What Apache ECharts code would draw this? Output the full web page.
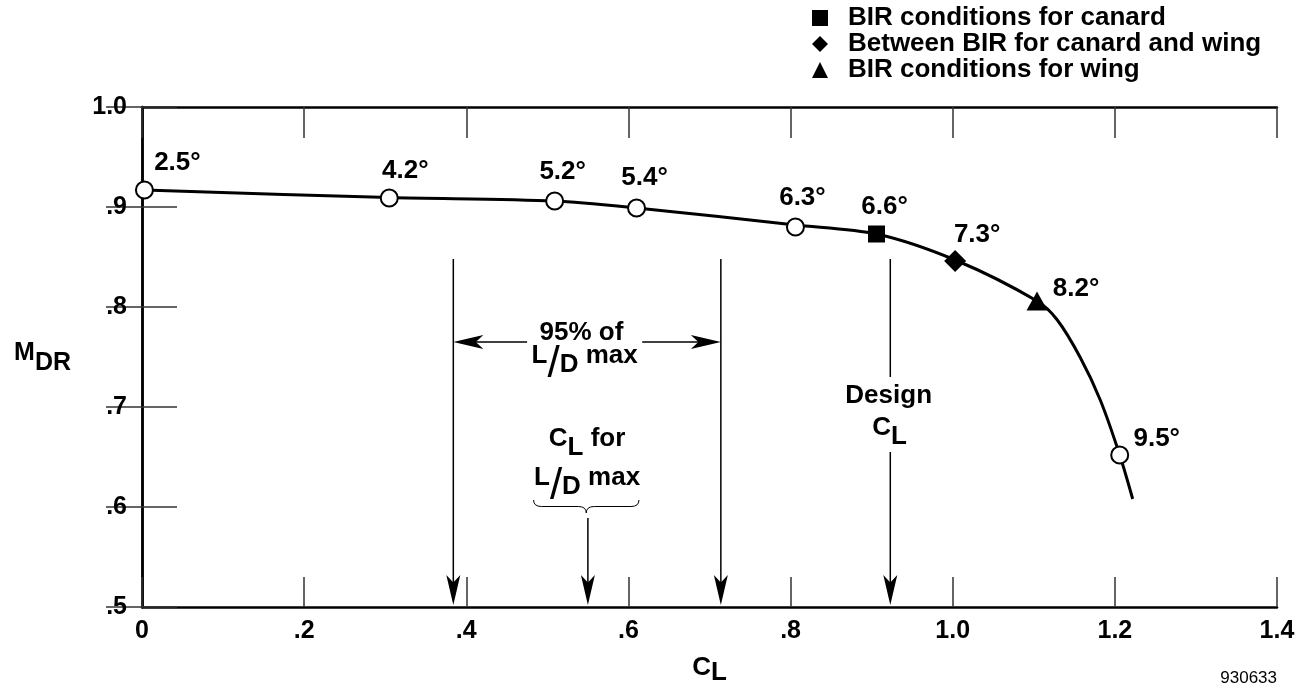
<!DOCTYPE html>
<html>
<head>
<meta charset="utf-8">
<script src="https://cdn.jsdelivr.net/npm/echarts@6/dist/echarts.min.js"></script>
<style>
html, body { margin: 0; padding: 0; background: #fff; }
#main { width: 1299px; height: 688px; }
</style>
</head>
<body>
<div id="main"></div>
<script>
var FONT = '"Liberation Sans", Arial, Helvetica, sans-serif';

// faired curve through the test points (C_L, M_DR)
var curveCL  = [0.003, 0.305, 0.509, 0.61, 0.806, 0.906, 1.003, 1.104, 1.129, 1.157, 1.182, 1.206, 1.222];
var curveMDR = [0.917, 0.9095, 0.906, 0.899, 0.882, 0.873, 0.847, 0.806, 0.787, 0.750, 0.707, 0.652, 0.608];

// open symbols
var openCL    = [0.003, 0.305, 0.509, 0.61, 0.806, 1.206];
var openMDR   = [0.917, 0.909, 0.906, 0.899, 0.880, 0.652];
var openAlpha = ['2.5°', '4.2°', '5.2°', '5.4°', '6.3°', '9.5°'];

// BIR points
var canardCL  = [0.906], canardMDR  = [0.873], canardAlpha  = ['6.6°'];
var betweenCL = [1.003], betweenMDR = [0.846], betweenAlpha = ['7.3°'];
var wingCL    = [1.104], wingMDR    = [0.806], wingAlpha    = ['8.2°'];

var legendNames = ['BIR conditions for canard', 'Between BIR for canard and wing', 'BIR conditions for wing'];

var xTickLabels = ['0', '.2', '.4', '.6', '.8', '1.0', '1.2', '1.4'];
var yTickLabels = ['.5', '.6', '.7', '.8', '.9', '1.0'];

// annotation arrows: [fromCL, fromMDR, toCL, toMDR, head]
var arrowLines = [
  [0.384, 0.848, 0.384, 0.502, 1],
  [0.714, 0.848, 0.714, 0.502, 1],
  [0.550, 0.589, 0.550, 0.502, 1],
  [0.923, 0.848, 0.923, 0.730, 0],
  [0.923, 0.655, 0.923, 0.502, 1],
  [0.475, 0.765, 0.384, 0.765, 1],
  [0.617, 0.765, 0.714, 0.765, 1]
];

// annotation texts
var noteText = ['95% of', '{b|L}{sl|/}{sub|D}{b| max}', '{b|C}{sub|L}{b| for}', '{b|L}{sl|/}{sub|D}{b| max}', 'Design', '{b|C}{sub|L}'];
var noteCL   = [0.542, 0.546, 0.549, 0.549, 0.921, 0.922];
var noteMDR  = [0.774, 0.742, 0.659, 0.620, 0.711, 0.670];

// brace under "C_L for L/D max": [leftCL, topMDR, rightCL, tipMDR]
var brace = [0.483, 0.607, 0.613, 0.594];

var subRich = {
  b:   { fontFamily: FONT, fontSize: 26, fontWeight: 'bold', color: '#000', fill: '#000', lineHeight: 28, verticalAlign: 'top' },
  sub: { fontFamily: FONT, fontSize: 26, fontWeight: 'bold', color: '#000', fill: '#000', lineHeight: 44 },
  sl:  { fontFamily: FONT, fontSize: 44, fontWeight: 'normal', color: '#000', fill: '#000', lineHeight: 44 }
};
var axisNameRich = {
  b:   { fontFamily: FONT, fontSize: 26, fontWeight: 'bold', color: '#000', lineHeight: 28, verticalAlign: 'top' },
  sub: { fontFamily: FONT, fontSize: 26, fontWeight: 'bold', color: '#000', lineHeight: 36 }
};

var labelBase = {
  show: true, position: 'inside', color: '#000',
  fontFamily: FONT, fontSize: 26, fontWeight: 'bold'
};
var openOffsets = [[33, -27], [16, -27], [8, -29], [8, -30], [7, -29], [37, -16]];

function pairs(xs, ys) {
  return xs.map(function (x, i) { return [x, ys[i]]; });
}
function labelled(xs, ys, texts, offsets) {
  return xs.map(function (x, i) {
    return { value: [x, ys[i]], name: texts[i], label: { offset: offsets[i] } };
  });
}

var chart = echarts.init(document.getElementById('main'));

var option = {
  backgroundColor: '#fff',
  animation: false,
  grid: { left: 142, right: 22, top: 107, bottom: 81, containLabel: false, outerBoundsMode: 'none' },
  legend: {
    orient: 'vertical', left: 807, top: 0,
    itemWidth: 16, itemHeight: 16, itemGap: 0,
    selectedMode: false,
    formatter: '{t|{name}}',
    textStyle: {
      padding: [0, 0, 0, 15],
      rich: { t: { fontFamily: FONT, fontSize: 26, fontWeight: 'bold', color: '#000' } }
    },
    data: legendNames
  },
  xAxis: [{
    type: 'value', min: 0, max: 1.4, interval: 0.2, position: 'bottom',
    axisLine: { lineStyle: { color: '#000', width: 2.5 } },
    axisTick: { inside: true, length: 30, lineStyle: { color: '#333', width: 1.5 } },
    splitLine: { show: false },
    axisLabel: {
      margin: 12, color: '#000', fontFamily: FONT, fontSize: 25, fontWeight: 'bold',
      showMinLabel: true, showMaxLabel: true,
      formatter: function (v, i) { return xTickLabels[i]; }
    },
    name: '{b|C}{sub|L}', nameLocation: 'middle', nameGap: 48,
    nameTextStyle: { rich: axisNameRich }
  }, {
    type: 'value', min: 0, max: 1.4, interval: 0.2, position: 'top',
    axisLine: { lineStyle: { color: '#000', width: 2.5 } },
    axisTick: { inside: true, length: 31, lineStyle: { color: '#333', width: 1.5 } },
    splitLine: { show: false },
    axisLabel: { show: false }
  }],
  yAxis: [{
    type: 'value', min: 0.5, max: 1.0, interval: 0.1, position: 'left',
    axisLine: { lineStyle: { color: '#000', width: 2.5 } },
    axisTick: { inside: true, length: 35, lineStyle: { color: '#333', width: 1.5 } },
    splitLine: { show: false },
    axisLabel: {
      margin: 15, color: '#000', fontFamily: FONT, fontSize: 25, fontWeight: 'bold',
      showMinLabel: true, showMaxLabel: true,
      formatter: function (v, i) { return yTickLabels[i]; }
    },
    name: '{m|M}{sub|DR}', nameLocation: 'middle', nameRotate: 0, nameGap: 71,
    nameTextStyle: {
      padding: [12, 0, 0, 0],
      rich: {
        m:   { fontFamily: FONT, fontSize: 25, fontWeight: 'bold', color: '#000', lineHeight: 27, verticalAlign: 'top' },
        sub: { fontFamily: FONT, fontSize: 25, fontWeight: 'bold', color: '#000', lineHeight: 44 }
      }
    }
  }, {
    type: 'value', min: 0.5, max: 1.0, interval: 0.1, position: 'right',
    axisLine: { lineStyle: { color: '#000', width: 2.5 } },
    axisTick: { inside: true, length: 36, lineStyle: { color: '#333', width: 1.5 } },
    splitLine: { show: false },
    axisLabel: { show: false }
  }],
  graphic: [{
    type: 'text', right: 22, top: 670,
    style: { text: '930633', fontFamily: FONT, fontSize: 17, fill: '#000' }
  }],
  series: [
    {
      name: 'curve', type: 'line', data: pairs(curveCL, curveMDR),
      smooth: 0.3, symbol: 'none', silent: true, z: 2,
      lineStyle: { color: '#000', width: 3 }
    },
    {
      name: 'test points', type: 'scatter', z: 4,
      data: labelled(openCL, openMDR, openAlpha, openOffsets),
      symbol: 'circle', symbolSize: 17,
      itemStyle: { color: '#fff', borderColor: '#000', borderWidth: 2, opacity: 1 },
      label: Object.assign({ formatter: '{b}' }, labelBase)
    },
    {
      name: legendNames[0], type: 'scatter', z: 4,
      data: labelled(canardCL, canardMDR, canardAlpha, [[8, -27]]),
      symbol: 'rect', symbolSize: 17,
      itemStyle: { color: '#000', opacity: 1 },
      label: Object.assign({ formatter: '{b}' }, labelBase)
    },
    {
      name: legendNames[1], type: 'scatter', z: 4,
      data: labelled(betweenCL, betweenMDR, betweenAlpha, [[22, -26]]),
      symbol: 'diamond', symbolSize: 22,
      itemStyle: { color: '#000', opacity: 1 },
      label: Object.assign({ formatter: '{b}' }, labelBase)
    },
    {
      name: legendNames[2], type: 'scatter', z: 4,
      data: labelled(wingCL, wingMDR, wingAlpha, [[39, -12]]),
      symbol: 'triangle', symbolSize: [21, 19],
      itemStyle: { color: '#000', opacity: 1 },
      label: Object.assign({ formatter: '{b}' }, labelBase)
    },
    {
      name: 'arrows', type: 'custom', silent: true, z: 3,
      data: arrowLines,
      encode: { x: [0, 2], y: [1, 3] },
      renderItem: function (params, api) {
        var p1 = api.coord([api.value(0), api.value(1)]);
        var p2 = api.coord([api.value(2), api.value(3)]);
        var head = api.value(4);
        var dx = p2[0] - p1[0], dy = p2[1] - p1[1];
        var len = Math.sqrt(dx * dx + dy * dy);
        var ux = dx / len, uy = dy / len, nx = -uy, ny = ux;
        var L = 30, W = 7;
        var children = [];
        var end = head ? [p2[0] - ux * L * 0.7, p2[1] - uy * L * 0.7] : p2;
        children.push({
          type: 'line',
          shape: { x1: p1[0], y1: p1[1], x2: end[0], y2: end[1] },
          style: { stroke: '#000', lineWidth: 1.5 }
        });
        if (head) {
          children.push({
            type: 'polygon',
            shape: { points: [
              [p2[0], p2[1]],
              [p2[0] - ux * L + nx * W, p2[1] - uy * L + ny * W],
              [p2[0] - ux * L * 0.75, p2[1] - uy * L * 0.75],
              [p2[0] - ux * L - nx * W, p2[1] - uy * L - ny * W]
            ] },
            style: { fill: '#000' }
          });
        }
        return { type: 'group', children: children };
      }
    },
    {
      name: 'notes', type: 'custom', silent: true, z: 5,
      data: pairs(noteCL, noteMDR),
      renderItem: function (params, api) {
        var p = api.coord([api.value(0), api.value(1)]);
        return {
          type: 'text', x: p[0], y: p[1],
          style: {
            text: noteText[params.dataIndex], rich: subRich,
            fontFamily: FONT, fontSize: 26, fontWeight: 'bold', fill: '#000',
            align: 'center', verticalAlign: 'middle'
          }
        };
      }
    },
    {
      name: 'brace', type: 'custom', silent: true, z: 5,
      data: [brace],
      encode: { x: [0, 2], y: [1, 3] },
      renderItem: function (params, api) {
        var a = api.coord([api.value(0), api.value(1)]);
        var b = api.coord([api.value(2), api.value(3)]);
        var xl = a[0], xr = b[0], yt = a[1], yb = b[1];
        var xm = (xl + xr) / 2, ym = (yt + yb) / 2, r = 8;
        var d = 'M' + xl + ',' + yt +
          ' Q' + xl + ',' + ym + ' ' + (xl + r) + ',' + ym +
          ' L' + (xm - r) + ',' + ym +
          ' Q' + xm + ',' + ym + ' ' + xm + ',' + yb +
          ' Q' + xm + ',' + ym + ' ' + (xm + r) + ',' + ym +
          ' L' + (xr - r) + ',' + ym +
          ' Q' + xr + ',' + ym + ' ' + xr + ',' + yt;
        return {
          type: 'path',
          shape: { pathData: d },
          style: { stroke: '#000', fill: null, lineWidth: 1 }
        };
      }
    }
  ]
};

chart.setOption(option);
</script>
</body>
</html>
